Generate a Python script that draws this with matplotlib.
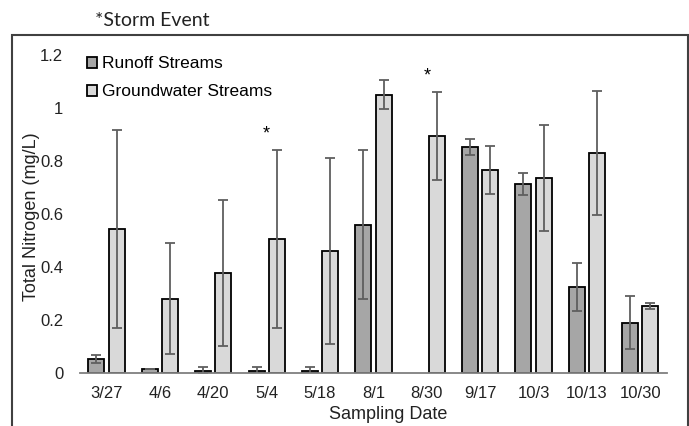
import numpy as np
import matplotlib.pyplot as plt
from matplotlib.patches import Rectangle

dates = ['3/27', '4/6', '4/20', '5/4', '5/18', '8/1', '8/30', '9/17', '10/3', '10/13', '10/30']
runoff = [0.053, 0.015, 0.008, 0.008, 0.008, 0.56, np.nan, 0.853, 0.713, 0.325, 0.19]
runoff_err = [0.015, 0.0, 0.013, 0.015, 0.015, 0.28, np.nan, 0.03, 0.042, 0.09, 0.10]
ground = [0.543, 0.28, 0.378, 0.505, 0.46, 1.05, 0.895, 0.766, 0.735, 0.83, 0.253]
ground_err = [0.375, 0.21, 0.275, 0.335, 0.35, 0.055, 0.165, 0.09, 0.2, 0.235, 0.012]
storm = ['5/4', '8/30']

plt.rcParams['font.family'] = ['Liberation Sans', 'DejaVu Sans']

fig = plt.figure(figsize=(6.89, 4.26), dpi=100)
ax = fig.add_axes([0.116, 0.1244, 0.852, 0.7465])

x = np.arange(len(dates))
w = 0.3
off = 0.19
ekw = dict(ecolor='#5f5f5f', elinewidth=1.3, capsize=3.5, capthick=1.3)
ax.bar(x - off, runoff, w, yerr=runoff_err, color='#a6a6a6', edgecolor='black',
       linewidth=1.3, error_kw=ekw, label='Runoff Streams')
ax.bar(x + off, ground, w, yerr=ground_err, color='#d9d9d9', edgecolor='black',
       linewidth=1.3, error_kw=ekw, label='Groundwater Streams')

# storm event markers above the taller error bar
for d in storm:
    i = dates.index(d)
    top = np.nanmax([runoff[i] + runoff_err[i], ground[i] + ground_err[i]])
    ax.text(i, top + 0.03, '*', ha='center', va='bottom', fontsize=13)

ax.set_xlim(-0.5, len(dates) - 0.5)
ax.set_ylim(0, 1.2)
ax.set_yticks([0, 0.2, 0.4, 0.6, 0.8, 1.0, 1.2])
ax.set_yticklabels(['0', '0.2', '0.4', '0.6', '0.8', '1', '1.2'])
ax.set_xticks(x)
ax.set_xticklabels(dates)
ax.tick_params(axis='both', length=0, labelsize=12, colors='#222222')
ax.tick_params(axis='y', pad=12)
ax.tick_params(axis='x', pad=9)
for s in ['top', 'right', 'left']:
    ax.spines[s].set_visible(False)
ax.spines['bottom'].set_color('#7f7f7f')
ax.spines['bottom'].set_linewidth(1.3)

ax.set_xlabel('Sampling Date', fontsize=13, color='#222222')
ax.xaxis.set_label_coords(0.525, -0.105)
ax.set_ylabel('Total Nitrogen (mg/L)', fontsize=13, color='#222222')
ax.yaxis.set_label_coords(-0.068, 0.49)

ax.legend(loc='upper left', bbox_to_anchor=(-0.015, 1.045), frameon=False, fontsize=12.5,
          handlelength=0.6, handleheight=0.6, handletextpad=0.25, labelspacing=0.75)

# outer frame of the chart area
fig.patches.append(Rectangle((12 / 689, -0.1), 676 / 689, 1.1 - 35 / 426,
                             transform=fig.transFigure, fill=False,
                             edgecolor='#404040', linewidth=1.5))

fig.text(95 / 689, 1 - 20 / 426, '*Storm Event', fontsize=14, family='Lato',
         va='center', ha='left', color='#222222')

fig.savefig('out.png', dpi=100)
